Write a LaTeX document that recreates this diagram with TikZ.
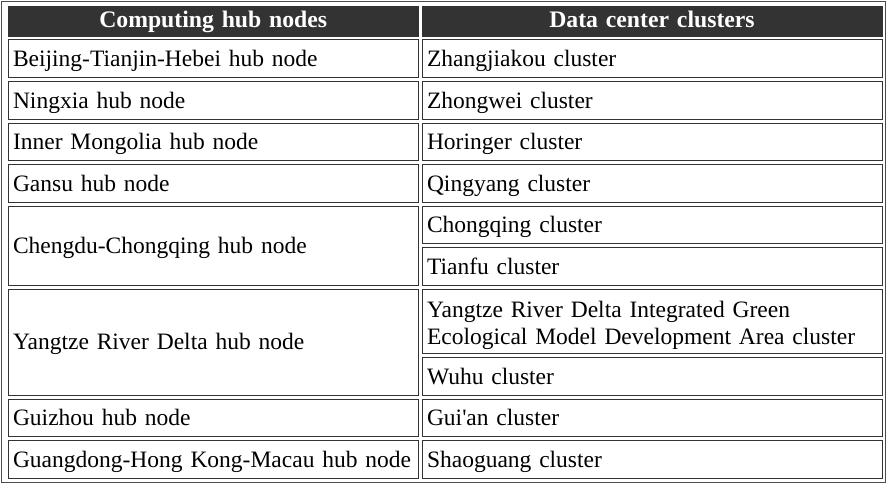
\documentclass[tikz,border=0pt]{standalone}
\usepackage{fontspec}
\setmainfont{Liberation Serif}
\begin{document}
\begin{tikzpicture}[x=1pt,y=-1pt,
  cell/.style={draw=black!80,line width=1pt,anchor=north west,inner xsep=5pt,inner ysep=0pt,
    align=left,minimum height=37.5pt,text height=21.6pt,text depth=5.7pt,
    font=\fontsize{23.5}{27.3}\selectfont},
  hubcell/.style={cell,text width=400.5pt},
  clustercell/.style={cell,text width=450pt},
  headcell/.style={cell,fill=black!80,text=white,align=center,minimum height=30.5pt,
    text height=19.5pt,text depth=7.8pt,font=\fontsize{23.7}{27.3}\selectfont\bfseries}]
\useasboundingbox (0,0) rectangle (890,487);
\draw[black!70,line width=1pt] (1.5,1.5) rectangle (885,482);
% header
\node[headcell,text width=400.5pt] (hhub)     at (7.5,6)   {Computing hub nodes};
\node[headcell,text width=450pt]   (hcluster) at (421.5,6) {Data center clusters};
% hub nodes
\node[hubcell] (bjh)  at (7.5,39.5)  {Beijing-Tianjin-Hebei hub node};
\node[hubcell] (nx)   at (7.5,81)    {Ningxia hub node};
\node[hubcell] (im)   at (7.5,122.5) {Inner Mongolia hub node};
\node[hubcell] (gs)   at (7.5,164)   {Gansu hub node};
\node[hubcell,minimum height=79pt]  (cdcq) at (7.5,205.5) {Chengdu-Chongqing hub node};
\node[hubcell,minimum height=106pt] (yrd)  at (7.5,288.5) {Yangtze River Delta hub node};
\node[hubcell] (gz)   at (7.5,398.5) {Guizhou hub node};
\node[hubcell] (gdhm) at (7.5,440)   {Guangdong-Hong Kong-Macau hub node};
% clusters
\node[clustercell] (zjk) at (421.5,39.5)  {Zhangjiakou cluster};
\node[clustercell] (zw)  at (421.5,81)    {Zhongwei cluster};
\node[clustercell] (hlg) at (421.5,122.5) {Horinger cluster};
\node[clustercell] (qy)  at (421.5,164)   {Qingyang cluster};
\node[clustercell] (cq)  at (421.5,205.5) {Chongqing cluster};
\node[clustercell] (tf)  at (421.5,247)   {Tianfu cluster};
\node[clustercell,minimum height=64.5pt,text height=24.9pt,text depth=33pt] (yrdg) at (421.5,288.5)
  {Yangtze River Delta Integrated Green\\Ecological Model Development Area cluster};
\node[clustercell] (wh)  at (421.5,357)   {Wuhu cluster};
\node[clustercell] (ga)  at (421.5,398.5) {Gui\textquotesingle an cluster};
\node[clustercell] (sg)  at (421.5,440)   {Shaoguang cluster};
\end{tikzpicture}
\end{document}
